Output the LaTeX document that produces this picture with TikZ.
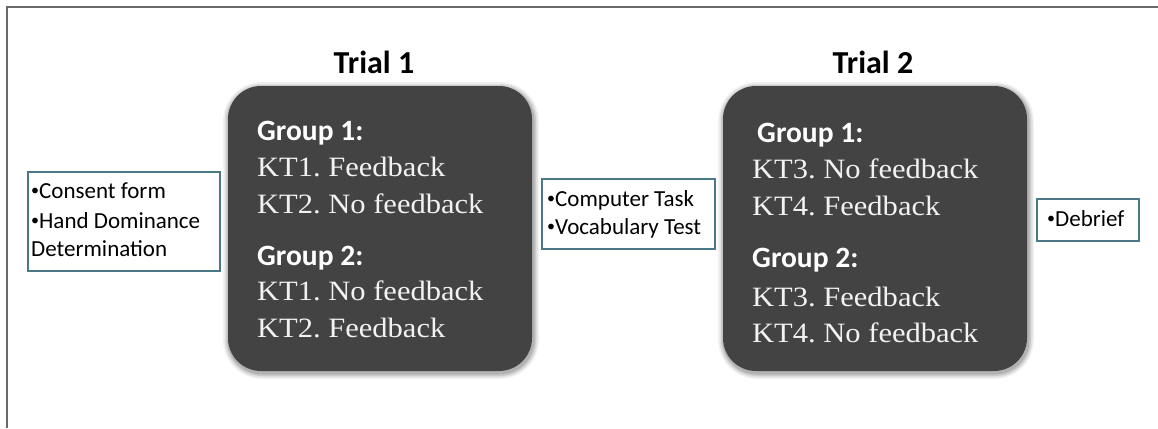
\documentclass[tikz,border=0pt]{standalone}
\usepackage{fontspec}
\newfontfamily\labelfont{Carlito}
\newfontfamily\bodyfont[FakeStretch=1.09]{Liberation Serif}
\definecolor{framegray}{RGB}{105,105,105}
\definecolor{panelfill}{RGB}{67,67,67}
\definecolor{noteedge}{RGB}{75,120,135}
\frenchspacing
% small list bullet used in the side notes
\newcommand{\notebullet}{\raisebox{0.12em}{\fontsize{16}{16}\selectfont•}}
\begin{document}
\begin{tikzpicture}[x=1pt,y=-1pt,
  title/.style={anchor=base,inner sep=0pt,font=\labelfont\bfseries\fontsize{32}{36}\selectfont},
  grouphead/.style={anchor=base west,inner sep=0pt,text=white,font=\labelfont\bfseries\fontsize{29.5}{32}\selectfont},
  kitem/.style={anchor=base west,inner sep=0pt,text=white!95!black,font=\bodyfont\fontsize{28}{32}\selectfont},
  notebox/.style={draw=noteedge,line width=1.3pt,fill=white},
  notetext/.style={anchor=base west,inner sep=0pt,font=\labelfont\fontsize{23}{26}\selectfont},
  panel/.style={fill=panelfill,rounded corners=33pt}]
\useasboundingbox (0,0) rectangle (1158,428);
\fill[white] (0,0) rectangle (1158,428);
% outer frame (left and top edges)
\draw[framegray,line width=2pt] (7,428) -- (7,7) -- (1158,7);

% soft shadows under the two trial panels
\foreach \xa/\xb in {228/532,723/1027}{
  \foreach \d/\o in {6/0.05,4.5/0.07,3/0.09,1.5/0.12}{
    \fill[black,opacity=\o,rounded corners=33pt+\d]
      (\xa-\d+1,86-\d+2) rectangle (\xb+\d+1,371+\d+2);
  }
}

% Trial 1 panel
\node[title] (t1) at (374,74) {Trial 1};
\fill[panel] (228,86) rectangle (532,371);
\node[grouphead] (t1g1) at (257,140) {Group 1:};
\node[kitem] (t1a) at (257,176) {KT1. Feedback};
\node[kitem] (t1b) at (257,213) {KT2. No feedback};
\node[grouphead] (t1g2) at (257,265) {Group 2:};
\node[kitem] (t1c) at (257,300) {KT1. No feedback};
\node[kitem] (t1d) at (257,337) {KT2. Feedback};

% Trial 2 panel
\node[title] (t2) at (873,74) {Trial 2};
\fill[panel] (723,86) rectangle (1027,371);
\node[grouphead] (t2g1) at (757,142) {Group 1:};
\node[kitem] (t2a) at (752,178) {KT3. No feedback};
\node[kitem] (t2b) at (752,215) {KT4. Feedback};
\node[grouphead] (t2g2) at (752,267) {Group 2:};
\node[kitem] (t2c) at (752,306) {KT3. Feedback};
\node[kitem] (t2d) at (752,342) {KT4. No feedback};

% side notes
\draw[notebox] (28,172) rectangle (220,271);
\node[notetext] (n1a) at (31,198) {\notebullet Consent form};
\node[notetext] (n1b) at (31,228) {\notebullet Hand Dominance};
\node[notetext] (n1c) at (31,256) {Determination};

\draw[notebox] (542,179) rectangle (715,249);
\node[notetext] (n2a) at (547,206) {\notebullet Computer Task};
\node[notetext] (n2b) at (547,234) {\notebullet Vocabulary Test};

\draw[notebox] (1037,199) rectangle (1139,241);
\node[notetext] (n3a) at (1047,226) {\notebullet Debrief};
\end{tikzpicture}
\end{document}
